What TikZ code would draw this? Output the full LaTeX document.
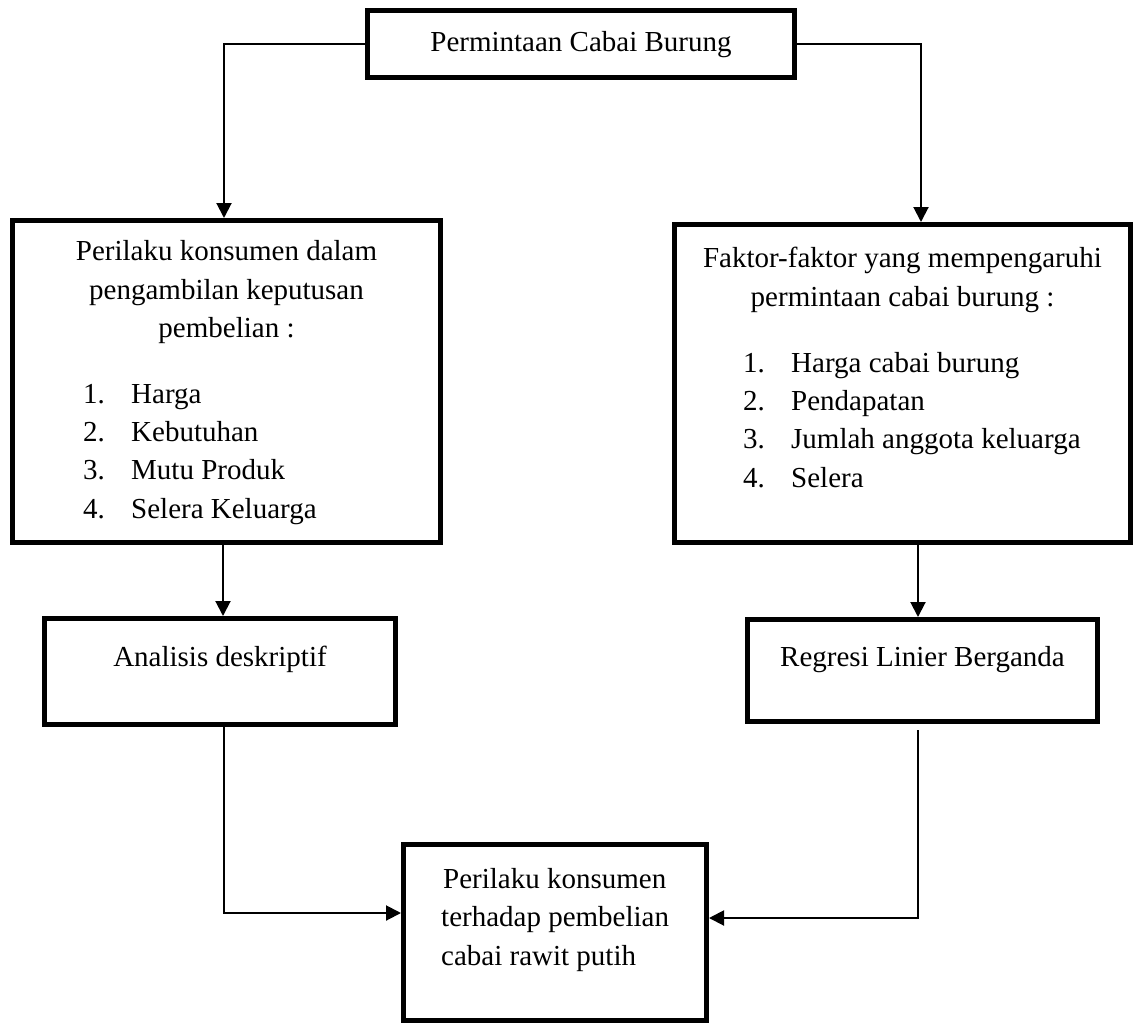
\documentclass[tikz,border=0pt]{standalone}
\usepackage{fontspec}
\setmainfont{Liberation Serif}
\usetikzlibrary{arrows.meta,calc}
\begin{document}
\begin{tikzpicture}[x=1pt,y=-1pt,
  box/.style={draw,line width=5pt,inner sep=0pt},
  conn/.style={line width=2pt},
  arr/.style={conn,-{Triangle[width=15pt,length=15pt]}},
  txt/.style={inner sep=0pt,font=\fontsize{29}{38.5}\selectfont},
  ctr/.style={txt,anchor=base},
  lft/.style={txt,anchor=base west}]
\useasboundingbox (0,0) rectangle (1133,1023);

% boxes
\node[box,minimum width=427pt,minimum height=67pt] (top) at (581,44) {};
\node[box,minimum width=428pt,minimum height=322pt] (lbox) at (226.5,381.5) {};
\node[box,minimum width=456pt,minimum height=318pt] (rbox) at (902.5,383.5) {};
\node[box,minimum width=351pt,minimum height=106pt] (ana) at (220,671.5) {};
\node[box,minimum width=350pt,minimum height=102pt] (reg) at (922.5,670.5) {};
\node[box,minimum width=303pt,minimum height=176pt] (bot) at (555,932.5) {};

% texts
\node[ctr] (t0) at (581,51) {Permintaan Cabai Burung};

\node[ctr] (la) at (226.5,260) {Perilaku konsumen dalam};
\node[ctr] (lb) at (226.5,299) {pengambilan keputusan};
\node[ctr] (lc) at (226.5,337) {pembelian :};
\node[lft] (l1) at (83,403) {\makebox[48pt][l]{1.}Harga};
\node[lft] (l2) at (83,441.3) {\makebox[48pt][l]{2.}Kebutuhan};
\node[lft] (l3) at (83,479.6) {\makebox[48pt][l]{3.}Mutu Produk};
\node[lft] (l4) at (83,518) {\makebox[48pt][l]{4.}Selera Keluarga};

\node[ctr] (ra) at (902.5,267) {Faktor-faktor yang mempengaruhi};
\node[ctr] (rb) at (902.5,306) {permintaan cabai burung :};
\node[lft] (r1) at (743,372) {\makebox[48pt][l]{1.}Harga cabai burung};
\node[lft] (r2) at (743,410.3) {\makebox[48pt][l]{2.}Pendapatan};
\node[lft] (r3) at (743,448.6) {\makebox[48pt][l]{3.}Jumlah anggota keluarga};
\node[lft] (r4) at (743,487) {\makebox[48pt][l]{4.}Selera};

\node[ctr] (at) at (220,666) {Analisis deskriptif};
\node[ctr] (rt) at (922.5,666) {Regresi Linier Berganda};

\node[lft] (b1) at (443,888) {Perilaku konsumen};
\node[lft] (b2) at (441,926.5) {terhadap pembelian};
\node[lft] (b3) at (441,965) {cabai rawit putih};

% connectors
\draw[arr] (top.west) -| ([xshift=-2.5pt]lbox.north);
\draw[arr] (top.east) -| ([xshift=18.5pt]rbox.north);
\draw[arr] ([xshift=-3.5pt]lbox.south) -- ([xshift=-3.5pt]lbox.south |- ana.north);
\draw[arr] ([xshift=-4.5pt]reg.north |- rbox.south) -- ([xshift=-4.5pt]reg.north);
\draw[arr] ([xshift=4pt]ana.south) |- ([yshift=19.5pt]bot.west);
\draw[arr] ([xshift=-4.5pt,yshift=-6pt]reg.south) |- ([yshift=14.5pt]bot.east);
\end{tikzpicture}
\end{document}
